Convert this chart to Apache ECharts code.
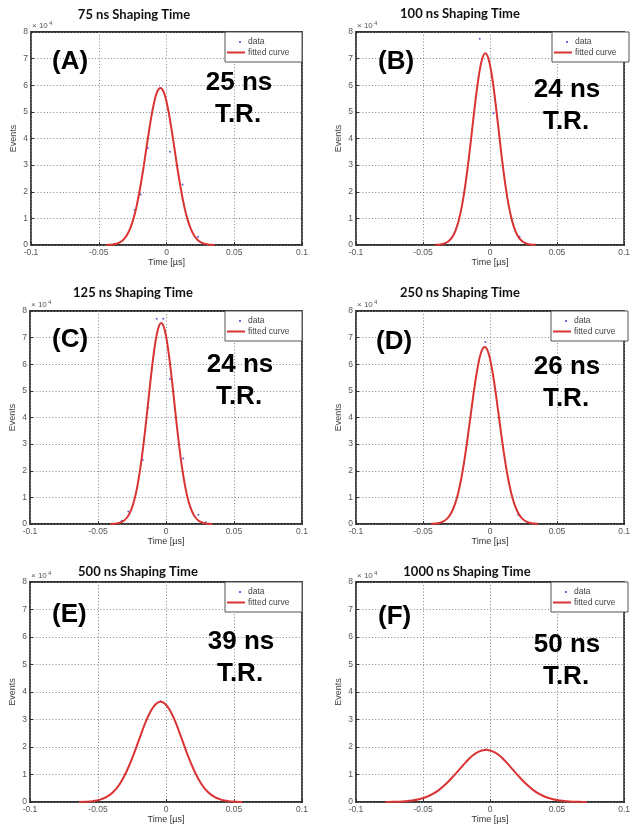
<!DOCTYPE html>
<html>
<head>
<meta charset="utf-8">
<script src="https://cdn.jsdelivr.net/npm/echarts@6/dist/echarts.min.js"></script>
<style>
html, body { margin: 0; padding: 0; background: #fff; }
#chart { width: 633px; height: 829px; }
</style>
</head>
<body>
<div id="chart"></div>
<script>
// panel texts
var shaping_titles = ["75 ns Shaping Time", "100 ns Shaping Time", "125 ns Shaping Time",
	"250 ns Shaping Time", "500 ns Shaping Time", "1000 ns Shaping Time"];
var panel_letters = ["(A)", "(B)", "(C)", "(D)", "(E)", "(F)"];
var timing_resolution = ["25 ns", "24 ns", "24 ns", "26 ns", "39 ns", "50 ns"];
var legend_names = ["data", "fitted curve"];
var y_tick_labels = ["0", "1", "2", "3", "4", "5", "6", "7", "8"];

// fitted curves, time in us, events in units of 10^4
var timeA = [-0.0445, -0.042, -0.0395, -0.037, -0.0345, -0.032, -0.0295, -0.027, -0.0245, -0.022, -0.0195,
	-0.017, -0.0145, -0.012, -0.0095, -0.007, -0.0045, -0.002, 0.0005, 0.003, 0.0055, 0.008, 0.0105,
	0.013, 0.0155, 0.018, 0.0205, 0.023, 0.0255, 0.028, 0.0305, 0.033, 0.0355];
var fitA = [0.004, 0.010, 0.023, 0.049, 0.0995, 0.191, 0.346, 0.594, 0.962, 1.47, 2.13, 2.90, 3.75, 4.57,
	5.27, 5.74, 5.90, 5.74, 5.27, 4.57, 3.75, 2.90, 2.13, 1.47, 0.962, 0.594, 0.346, 0.191, 0.0995, 0.049,
	0.023, 0.010, 0.004];

var timeB = [-0.041, -0.0385, -0.036, -0.0335, -0.031, -0.0285, -0.026, -0.0235, -0.021, -0.0185, -0.016,
	-0.0135, -0.011, -0.0085, -0.006, -0.0035, -0.001, 0.0015, 0.004, 0.0065, 0.009, 0.0115, 0.014,
	0.0165, 0.019, 0.0215, 0.024, 0.0265, 0.029, 0.0315, 0.034];
var fitB = [0.005, 0.012, 0.029, 0.066, 0.140, 0.278, 0.516, 0.897, 1.46, 2.23, 3.19, 4.28, 5.37, 6.32,
	6.97, 7.20, 6.97, 6.32, 5.37, 4.28, 3.19, 2.23, 1.46, 0.897, 0.516, 0.278, 0.140, 0.066, 0.029, 0.012, 0.005];

var timeC = timeB;
var fitC = [0.004, 0.010, 0.024, 0.057, 0.125, 0.254, 0.484, 0.861, 1.43, 2.23, 3.23, 4.39, 5.56, 6.59,
	7.30, 7.55, 7.30, 6.59, 5.56, 4.39, 3.23, 2.23, 1.43, 0.861, 0.484, 0.254, 0.125, 0.057, 0.024, 0.010, 0.004];

var timeD = [-0.044, -0.0415, -0.039, -0.0365, -0.034, -0.0315, -0.029, -0.0265, -0.024, -0.0215, -0.019,
	-0.0165, -0.014, -0.0115, -0.009, -0.0065, -0.004, -0.0015, 0.001, 0.0035, 0.006, 0.0085, 0.011,
	0.0135, 0.016, 0.0185, 0.021, 0.0235, 0.026, 0.0285, 0.031, 0.0335, 0.036];
var fitD = [0.005, 0.013, 0.029, 0.060, 0.121, 0.230, 0.412, 0.699, 1.12, 1.70, 2.44, 3.32, 4.26, 5.18,
	5.95, 6.47, 6.65, 6.47, 5.95, 5.18, 4.26, 3.32, 2.44, 1.70, 1.12, 0.699, 0.412, 0.230, 0.121, 0.060,
	0.029, 0.013, 0.005];

var timeE = [-0.064, -0.059, -0.054, -0.049, -0.044, -0.039, -0.034, -0.029, -0.024, -0.019, -0.014, -0.009,
	-0.004, 0.001, 0.006, 0.011, 0.016, 0.021, 0.026, 0.031, 0.036, 0.041, 0.046, 0.051, 0.056];
var fitE = [0.004, 0.011, 0.031, 0.077, 0.173, 0.354, 0.657, 1.11, 1.70, 2.38, 3.02, 3.48, 3.65, 3.48,
	3.02, 2.38, 1.70, 1.11, 0.657, 0.354, 0.173, 0.077, 0.031, 0.011, 0.004];

var timeF = [-0.078, -0.073, -0.068, -0.063, -0.058, -0.053, -0.048, -0.043, -0.038, -0.033, -0.028, -0.023,
	-0.018, -0.013, -0.008, -0.003, 0.002, 0.007, 0.012, 0.017, 0.022, 0.027, 0.032, 0.037, 0.042, 0.047,
	0.052, 0.057, 0.062, 0.067, 0.072];
var fitF = [0.002, 0.006, 0.012, 0.026, 0.052, 0.097, 0.171, 0.283, 0.442, 0.651, 0.903, 1.18, 1.45, 1.69,
	1.84, 1.90, 1.84, 1.69, 1.45, 1.18, 0.903, 0.651, 0.442, 0.283, 0.171, 0.097, 0.052, 0.026, 0.012, 0.006, 0.002];

// the few measured points that stand off the fitted curves
var dataTimeA = [-0.0235, -0.019, -0.0137, 0.0026, 0.0119, 0.0233];
var dataEventsA = [1.31, 1.90, 3.64, 3.50, 2.27, 0.31];
var dataTimeB = [-0.0077, 0.0026, 0.022];
var dataEventsB = [7.75, 4.95, 0.31];
var dataTimeC = [-0.0068, -0.002, 0.0029, -0.013, -0.0171, 0.0127, -0.0277, -0.0326, 0.0238, 0.0294];
var dataEventsC = [7.71, 7.71, 5.45, 4.37, 2.40, 2.46, 0.47, 0.12, 0.35, 0.07];
var dataTimeD = [-0.0035, 0.021];
var dataEventsD = [6.84, 0.35];
var dataTimeE = [-0.004];
var dataEventsE = [3.66];
var dataTimeF = [-0.003];
var dataEventsF = [1.91];

var curve_time = [timeA, timeB, timeC, timeD, timeE, timeF];
var curve_events = [fitA, fitB, fitC, fitD, fitE, fitF];
var point_time = [dataTimeA, dataTimeB, dataTimeC, dataTimeD, dataTimeE, dataTimeF];
var point_events = [dataEventsA, dataEventsB, dataEventsC, dataEventsD, dataEventsE, dataEventsF];

// layout of the six plot boxes (pixels)
var boxes = [
	{ left: 31, top: 32, width: 271, height: 213 },
	{ left: 356, top: 32, width: 273, height: 213 },
	{ left: 30, top: 311, width: 272, height: 213 },
	{ left: 356, top: 311, width: 272, height: 213 },
	{ left: 30, top: 582, width: 272, height: 220 },
	{ left: 356, top: 582, width: 272, height: 220 }
];
var title_pos = [[134, 15], [460, 14], [133, 293], [460, 293], [138, 572], [467, 572]];
var letter_pos = [[52, 62], [378, 62], [52, 340], [376, 342], [52, 615], [378, 617]];
var tr_pos = [[239, 83], [567, 90], [240, 365], [567, 367], [241, 642], [567, 645]];

var red = "#d93333";
var blue = "#3b3bd0";
var tick_font = "Liberation Sans";
var grid_line = { show: true, lineStyle: { color: "#808080", width: 1, type: [1, 2.2] } };

function pairs(xs, ys) {
	var out = [];
	for (var i = 0; i < xs.length; i++) out.push([xs[i], ys[i]]);
	return out;
}

var grids = [], x_axes = [], y_axes = [], series = [], graphics = [];
for (var i = 0; i < 6; i++) {
	var b = boxes[i];
	grids.push({
		left: b.left, top: b.top, width: b.width, height: b.height,
		show: true, borderColor: "#333", borderWidth: 1.8, backgroundColor: "#fff"
	});
	x_axes.push({
		type: "value", gridIndex: i, min: -0.1, max: 0.1, interval: 0.05,
		name: "Time [µs]", nameLocation: "middle", nameGap: 12,
		nameTextStyle: { fontSize: 9, color: "#333", fontFamily: tick_font },
		axisLine: { show: false, onZero: false },
		axisTick: { show: true, inside: true, length: 3, lineStyle: { color: "#333" } },
		axisLabel: { fontSize: 8.5, color: "#555", fontFamily: tick_font, margin: 3, showMinLabel: true, showMaxLabel: true },
		splitLine: grid_line
	});
	y_axes.push({
		type: "value", gridIndex: i, min: 0, max: 8, interval: 1,
		name: "Events", nameLocation: "middle", nameGap: 13,
		nameTextStyle: { fontSize: 9, color: "#444", fontFamily: tick_font },
		axisLine: { show: false, onZero: false },
		axisTick: { show: true, inside: true, length: 3, lineStyle: { color: "#333" } },
		axisLabel: {
			fontSize: 8.5, color: "#555", fontFamily: tick_font, margin: 3,
			formatter: function (v) { return y_tick_labels[Math.round(v)]; }
		},
		splitLine: grid_line
	});
	series.push({
		name: legend_names[0], type: "scatter", xAxisIndex: i, yAxisIndex: i,
		symbolSize: 2, itemStyle: { color: blue }, silent: true,
		data: pairs(point_time[i], point_events[i]), z: 3
	});
	series.push({
		name: legend_names[1], type: "line", xAxisIndex: i, yAxisIndex: i,
		smooth: 0.4, showSymbol: false, silent: true,
		lineStyle: { color: red, width: 2 },
		data: pairs(curve_time[i], curve_events[i]), z: 4
	});

	// title
	graphics.push({
		type: "text", z: 100, x: title_pos[i][0], y: title_pos[i][1],
		style: { text: shaping_titles[i], font: 'bold 13px Lato', fill: "#111",
			textAlign: "center", textVerticalAlign: "middle", align: "center", verticalAlign: "middle" }
	});
	// x 10^4
	graphics.push({
		type: "text", z: 100, x: b.left + 1, y: b.top - 6,
		style: { text: "× 10", font: '8px "Liberation Sans"', fill: "#555",
			textVerticalAlign: "middle", verticalAlign: "middle" }
	});
	graphics.push({
		type: "text", z: 100, x: b.left + 18, y: b.top - 9,
		style: { text: "4", font: '6px "Liberation Sans"', fill: "#555",
			textVerticalAlign: "middle", verticalAlign: "middle" }
	});
	// panel letter
	graphics.push({
		type: "text", z: 100, x: letter_pos[i][0], y: letter_pos[i][1],
		style: { text: panel_letters[i], font: 'bold 26px "Liberation Sans"', fill: "#000",
			textVerticalAlign: "middle", verticalAlign: "middle" }
	});
	// timing resolution
	graphics.push({
		type: "text", z: 100, x: tr_pos[i][0], y: tr_pos[i][1],
		style: { text: timing_resolution[i], font: 'bold 26px "Liberation Sans"', fill: "#000",
			textAlign: "center", textVerticalAlign: "middle", align: "center", verticalAlign: "middle" }
	});
	graphics.push({
		type: "text", z: 100, x: tr_pos[i][0] - 1, y: tr_pos[i][1] + 32,
		style: { text: "T.R.", font: 'bold 26px "Liberation Sans"', fill: "#000",
			textAlign: "center", textVerticalAlign: "middle", align: "center", verticalAlign: "middle" }
	});
	// legend box
	var lx = b.left + b.width - 77, ly = b.top;
	graphics.push({
		type: "rect", z: 99, shape: { x: lx, y: ly, width: 77, height: 30 },
		style: { fill: "#fff", stroke: "#555", lineWidth: 1 }
	});
	graphics.push({
		type: "circle", z: 100, shape: { cx: lx + 15, cy: ly + 10, r: 1 },
		style: { fill: blue }
	});
	graphics.push({
		type: "line", z: 100, shape: { x1: lx + 2, y1: ly + 20.5, x2: lx + 20, y2: ly + 20.5 },
		style: { stroke: red, lineWidth: 2 }
	});
	graphics.push({
		type: "text", z: 100, x: lx + 23, y: ly + 10,
		style: { text: legend_names[0], font: '8.5px "Liberation Sans"', fill: "#444",
			textVerticalAlign: "middle", verticalAlign: "middle" }
	});
	graphics.push({
		type: "text", z: 100, x: lx + 23, y: ly + 20.5,
		style: { text: legend_names[1], font: '8.5px "Liberation Sans"', fill: "#444",
			textVerticalAlign: "middle", verticalAlign: "middle" }
	});
}

var chart = echarts.init(document.getElementById("chart"), null, { renderer: "canvas" });
chart.setOption({
	backgroundColor: "#fff",
	animation: false,
	grid: grids,
	xAxis: x_axes,
	yAxis: y_axes,
	series: series,
	graphic: { elements: graphics }
});
</script>
</body>
</html>
